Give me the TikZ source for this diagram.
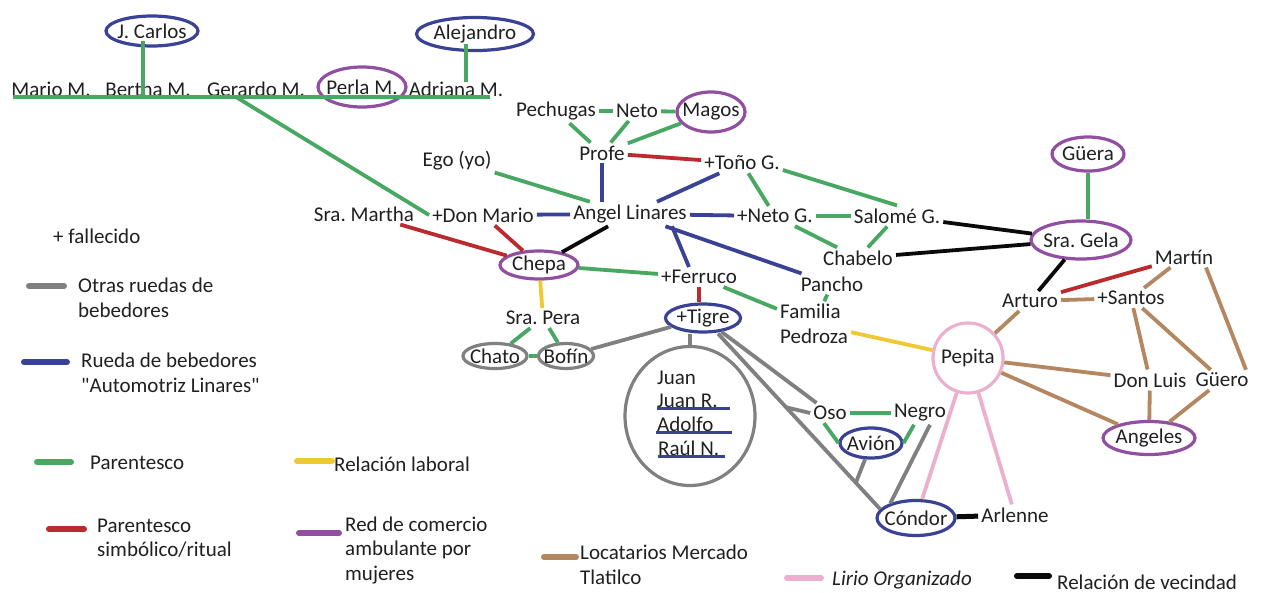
\documentclass[tikz,border=0pt]{standalone}
\usepackage{fontspec}
\setmainfont{Carlito}
\newfontfamily\plainq{Carlito}
\usetikzlibrary{shapes.geometric,calc}
\definecolor{cgreen}{RGB}{72,168,98}
\definecolor{cblue}{RGB}{58,66,150}
\definecolor{cpurple}{RGB}{146,78,160}
\definecolor{cred}{RGB}{186,42,46}
\definecolor{cgrey}{RGB}{128,128,128}
\definecolor{cyellow}{RGB}{240,200,50}
\definecolor{cbrown}{RGB}{180,135,96}
\definecolor{cpink}{RGB}{236,176,206}
\definecolor{cblack}{RGB}{10,10,10}
\definecolor{ctext}{RGB}{32,32,32}
\frenchspacing
\begin{document}
\begin{tikzpicture}[x=1pt,y=-1pt,
  every node/.style={font=\fontsize{21}{24.5}\selectfont\frenchspacing, text=ctext},
  lab/.style={inner sep=3pt},
  ell/.style={ellipse, draw=#1, line width=3.2pt, inner sep=-14pt},
  con/.style={line width=3.8pt},
  lgreen/.style={con, draw=cgreen},
  lblue/.style={con, draw=cblue},
  lred/.style={con, draw=cred},
  lblack/.style={con, draw=cblack},
  lyellow/.style={con, draw=cyellow},
  lbrown/.style={con, draw=cbrown},
  lpink/.style={con, draw=cpink},
  lgrey/.style={con, draw=cgrey},
  swatch/.style={line width=6pt, line cap=round},
  leg/.style={anchor=west, align=left, inner sep=0pt}
]
\fill[white] (0,0) rectangle (1263,592);
\useasboundingbox (0,0) rectangle (1263,592);

% ---------- top family ----------
\node[ell=cblue, minimum width=92pt, minimum height=30pt] (jcarlos) at (152,31) {J. Carlos};
\node[ell=cblue, minimum width=117pt, minimum height=33pt] (alejandro) at (475,34) {Alejandro};
\node[lab] (mario) at (51,89) {Mario M.};
\node[lab] (bertha) at (148,89) {Bertha M.};
\node[lab] (gerardo) at (256,89) {Gerardo M.};
\node[ell=cpurple, minimum width=88pt, minimum height=40pt] (perla) at (362,87) {Perla M.};
\node[lab] (adriana) at (456,89) {Adriana M.};

% ---------- centre ----------
\node[lab] (pechugas) at (556,111) {Pechugas};
\node[lab] (neto) at (637,111) {Neto};
\node[ell=cpurple, minimum width=68pt, minimum height=40pt] (magos) at (711,112) {Magos};
\node[lab] (profe) at (602,153) {Profe};
\node[lab] (tono) at (742,163) {+Toño G.};
\node[lab] (ego) at (457,161) {Ego (yo)};
\node[lab] (angel) at (630,214) {Angel Linares};
\node[lab] (donmario) at (483,215) {+Don Mario};
\node[lab] (sramartha) at (364,214) {Sra. Martha};
\node[lab] (netog) at (775,216) {+Neto G.};
\node[lab] (salome) at (897,216) {Salomé G.};
\node[lab] (chabelo) at (858,258) {Chabelo};
\node[ell=cpurple, minimum width=100pt, minimum height=38pt] (gela) at (1081,240) {Sra. Gela};
\node[ell=cpurple, minimum width=72pt, minimum height=34pt] (guera) at (1088,154) {Güera};
\node[lab] (martin) at (1184,257) {Martín};
\node[lab] (arturo) at (1030,301) {Arturo};
\node[lab] (santos) at (1131,298) {+Santos};
\node[ell=cpink, minimum width=70pt, minimum height=70pt] (pepita) at (968,358) {Pepita};
\node[lab] (donluis) at (1150,380) {Don Luis};
\node[lab] (guero) at (1222,380) {Güero};
\node[ell=cpurple, minimum width=92pt, minimum height=33pt] (angeles) at (1149,438) {Angeles};
\node[lab] (pancho) at (832,284) {Pancho};
\node[lab, align=left] (familia) at (814,324) {Familia\\Pedroza};
\node[lab] (ferruco) at (699,277) {+Ferruco};
\node[ell=cpurple, minimum width=78pt, minimum height=28pt] (chepa) at (539,265) {Chepa};
\node[lab] (srapera) at (543,318) {Sra. Pera};
\node[ell=cgrey, minimum width=64pt, minimum height=25pt] (chato) at (495,356) {Chato};
\node[ell=cgrey, minimum width=55pt, minimum height=25pt] (bofin) at (566,356) {Bofín};
\node[ell=cblue, minimum width=75pt, minimum height=28pt] (tigre) at (703,318) {+Tigre};
\node[ell=cgrey, minimum width=130pt, minimum height=139pt] (bigc) at (690,416) {};
\node[anchor=base west, inner sep=0pt] (juan) at (657,384) {Juan};
\node[anchor=base west, inner sep=0pt] (juanr) at (657,407) {Juan R.};
\node[anchor=base west, inner sep=0pt] (adolfo) at (657,431) {Adolfo};
\node[anchor=base west, inner sep=0pt] (rauln) at (658,455) {Raúl N.};
\node[lab] (oso) at (830,413) {Oso};
\node[lab] (negro) at (920,413) {Negro};
\node[ell=cblue, minimum width=62pt, minimum height=30pt] (avion) at (871,443) {Avión};
\node[ell=cblue, minimum width=78pt, minimum height=35pt] (condor) at (916,518) {Cóndor};
\node[lab] (arlenne) at (1015,515) {Arlenne};

% ---------- connectors ----------
% green: parentesco
\coordinate (famL) at (13,97);
\coordinate (famR) at (490,97);
\coordinate (jcB) at (143,97);
\coordinate (gerB) at (236,97);
\draw[lgreen] (famL) -- (famR);
\draw[lgreen] (jcB) -- ($(jcB |- jcarlos.south)+(0,-7)$);
\draw[lgreen] ([xshift=-9pt,yshift=8pt]alejandro.south) -- ([xshift=10pt,yshift=-4pt]adriana.north);
\draw[lgreen] (gerB) -- (donmario.west);
\draw[lgreen] (pechugas) -- (neto);
\draw[lgreen] (neto) -- (magos);
\draw[lgreen] (pechugas) -- (profe);
\draw[lgreen] (neto) -- (profe);
\draw[lgreen] (magos) -- (profe);
\draw[lgreen] (ego) -- (angel);
\draw[lgreen] (chepa) -- (ferruco);
\draw[lgreen] (ferruco) -- (familia);
\draw[lgreen] (pancho) -- (familia);
\draw[lgreen] (tono) -- (netog);
\draw[lgreen] ([yshift=-7pt]tono.east) -- (salome.north);
\draw[lgreen] (netog) -- (salome);
\draw[lgreen] (netog) -- (chabelo);
\draw[lgreen] (salome) -- (chabelo);
\draw[lgreen] (guera.south) -- (guera.south |- gela.north);
\draw[lgreen] (srapera) -- (chato);
\draw[lgreen] (srapera) -- (bofin);
\draw[lgreen] (chato) -- (bofin);
\draw[lgreen] (oso) -- (negro);
\draw[lgreen] ([xshift=-6pt]oso.south) -- (avion.west);
\draw[lgreen] ([xshift=-6pt]negro.south) -- (avion.east);

% blue: rueda Automotriz Linares
\draw[lblue] (profe) -- (profe |- angel.north);
\draw[lblue] (donmario) -- (angel);
\draw[lblue] (angel) -- (tono);
\draw[lblue] (angel) -- (netog);
\draw[lblue] (angel) -- (pancho);
\draw[lblue] ([xshift=42pt]angel.south) -- ([xshift=-10pt]ferruco.north);
\draw[lblue, line width=3pt] ([yshift=-1pt]juanr.base west) -- ([xshift=12pt,yshift=-1pt]juanr.base east);
\draw[lblue, line width=3pt] ([xshift=-1pt,yshift=-1pt]adolfo.base west) -- ([xshift=18pt,yshift=-1pt]adolfo.base east);
\draw[lblue, line width=3pt] ([yshift=-1pt]rauln.base west) -- ([xshift=6pt,yshift=-1pt]rauln.base east);

% red: parentesco simbolico
\draw[lred] (profe) -- (tono);
\draw[lred] (sramartha) -- (chepa);
\draw[lred] (donmario) -- (chepa);
\draw[lred] (ferruco.south) -- (ferruco.south |- tigre.north);
\draw[lred] (martin) -- (arturo);

% black: vecindad
\draw[lblack] (angel) -- (chepa);
\draw[lblack] (chabelo) -- (gela);
\draw[lblack] (salome) -- (gela);
\draw[lblack] (gela) -- (arturo);
\draw[lblack, line width=5pt] (condor) -- (arlenne);

% yellow: laboral
\draw[lyellow] (chepa) -- (srapera);
\draw[lyellow] (familia) -- (pepita);

% brown: locatarios
\draw[lbrown] (arturo) -- (santos);
\draw[lbrown] (martin) -- (santos);
\draw[lbrown] (arturo) -- (pepita);
\draw[lbrown] (pepita) -- (donluis);
\draw[lbrown] (santos) -- (donluis);
\draw[lbrown] (santos) -- (guero);
\draw[lbrown] ([xshift=22pt]martin.south) -- ([xshift=24pt]guero.north);
\draw[lbrown] (pepita) -- (angeles);
\draw[lbrown] (donluis) -- (angeles);
\draw[lbrown] (guero) -- (angeles);

% pink: lirio organizado
\draw[lpink] (pepita) -- (condor);
\draw[lpink] (pepita) -- (arlenne);

% grey: otras ruedas
\draw[lgrey] (bofin) -- (tigre);
\draw[lgrey] (bigc.north) -- (bigc.north |- tigre.south);
\draw[lgrey] (tigre) -- (oso);
\coordinate (t1) at ([xshift=15pt]tigre.south);
\coordinate (t2) at (condor.166);
\draw[lgrey] (t1) -- (t2);
\coordinate (b1) at ($(t1)!0.42!(t2)$);
\coordinate (b2) at ($(t1)!0.85!(t2)$);
\draw[lgrey] (b1) -- (oso.west);
\draw[lgrey] (avion.-110) -- (b2);
\draw[lgrey] ([xshift=10pt]negro.south) -- (condor.150);

% ---------- legend ----------
\node[leg] (fallecido) at (53,236) {+ fallecido};
\node[leg] (otras) at (78,298) {Otras ruedas de\\bebedores};
\node[leg] (rueda) at (81,373) {Rueda de bebedores\\{\plainq"}Automotriz Linares{\plainq"}};
\node[leg] (parent) at (90,463) {Parentesco};
\node[leg] (laboral) at (334,464) {Relación laboral};
\node[leg] (simb) at (97,538) {Parentesco\\simbólico/ritual};
\node[leg] (comercio) at (345,550) {Red de comercio\\ambulante por\\mujeres};
\node[leg] (locat) at (580,565) {Locatarios Mercado\\Tlatilco};
\node[leg] (lirio) at (832,580) {\itshape Lirio Organizado};
\node[leg] (vecindad) at (1057,582) {Relación de vecindad};

\draw[swatch, cgrey] (29,286) -- (64,286);
\draw[swatch, cblue] (24,362) -- (67,362);
\draw[swatch, cgreen] (37,462) -- (71,462);
\draw[swatch, cyellow] (297,461) -- (332,461);
\draw[swatch, cred] (49,529) -- (84,529);
\draw[swatch, cpurple] (299,533) -- (339,533);
\draw[swatch, cbrown] (544,557) -- (576,557);
\draw[swatch, cpink] (787,578) -- (821,578);
\draw[swatch, cblack] (1017,576) -- (1049,576);
\end{tikzpicture}
\end{document}
